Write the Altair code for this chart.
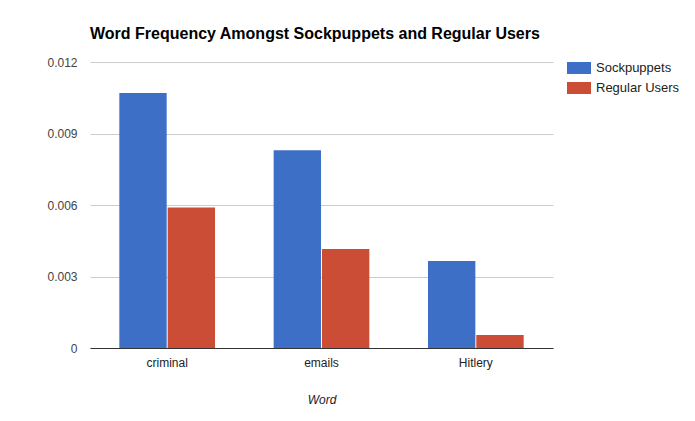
import altair as alt
import pandas as pd

words = ["criminal", "emails", "Hitlery"]
sockpuppets = [0.0107, 0.0083, 0.00365]
regular_users = [0.0059, 0.00415, 0.00055]
series = ["Sockpuppets", "Regular Users"]
colors = ["#3d6fc7", "#cb4d35"]

rows = []
for w, s, r in zip(words, sockpuppets, regular_users):
    rows.append({"Word": w, "Series": series[0], "Value": s})
    rows.append({"Word": w, "Series": series[1], "Value": r})
df = pd.DataFrame(rows)

FONT = "Liberation Sans"

chart = alt.Chart(df).mark_bar().encode(
    x=alt.X("Word:N", sort=words,
            scale=alt.Scale(paddingInner=0.38, paddingOuter=0.19),
            axis=alt.Axis(title="Word", labelAngle=0, ticks=False,
                          domainColor="#333333", domainWidth=1.2,
                          labelColor="#222222", labelFontSize=12, labelFont=FONT,
                          labelPadding=9, titleFont=FONT, titleFontSize=12,
                          titleFontStyle="italic", titleFontWeight="normal",
                          titleColor="#222222", titlePadding=26)),
    xOffset=alt.XOffset("Series:N", sort=series, scale=alt.Scale(paddingInner=0.02)),
    y=alt.Y("Value:Q", scale=alt.Scale(domain=[0, 0.012]),
            axis=alt.Axis(title=None, values=[0, 0.003, 0.006, 0.009, 0.012],
                          labelExpr="datum.value == 0 ? '0' : format(datum.value, '.3f')",
                          ticks=False, domain=False, gridColor="#cccccc",
                          labelColor="#444444", labelFontSize=12, labelFont=FONT,
                          labelPadding=13)),
    color=alt.Color("Series:N", sort=series,
                    scale=alt.Scale(domain=series, range=colors),
                    legend=alt.Legend(title=None, orient="none", legendX=477, legendY=-6,
                                      symbolType="M-1,-0.5H1V0.5H-1Z", symbolSize=576,
                                      symbolStrokeWidth=0, symbolOpacity=1,
                                      labelFont=FONT, labelFontSize=13, labelColor="#222222",
                                      rowPadding=1, labelOffset=5)),
).properties(
    width=463, height=286,
    title=alt.TitleParams("Word Frequency Amongst Sockpuppets and Regular Users",
                          anchor="start", frame="group", font=FONT, fontSize=16,
                          fontWeight="bold", color="#000000", offset=14),
    autosize=alt.AutoSizeParams(type="none"),
    padding={"left": 82, "top": 54, "right": 134, "bottom": 57},
).configure_view(stroke=None)

chart.save("out.html", embed_options={"renderer": "svg", "actions": False})
